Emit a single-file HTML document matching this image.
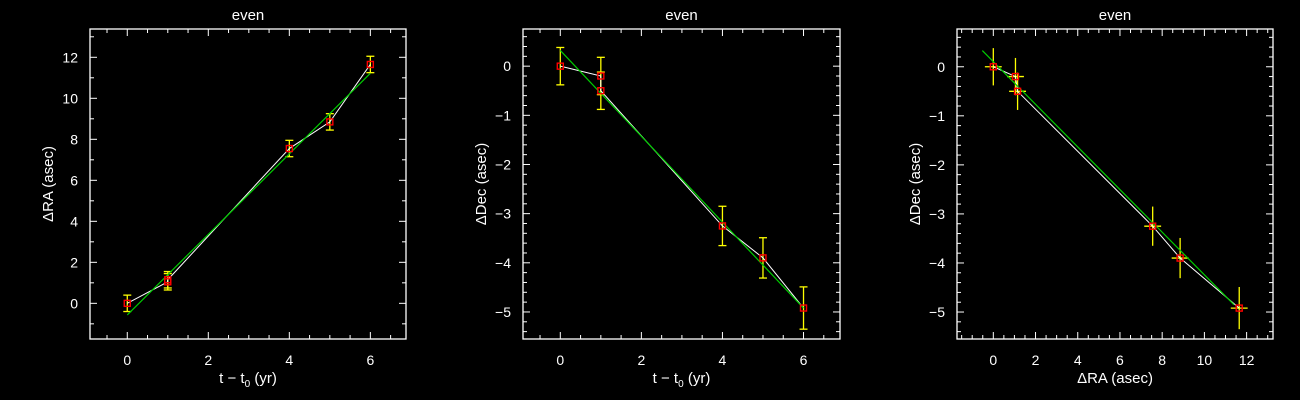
<!DOCTYPE html>
<html><head><meta charset="utf-8"><style>
html,body{margin:0;padding:0;background:#000;width:1300px;height:400px;overflow:hidden}
svg{display:block}
text{font-family:"Liberation Sans",sans-serif;fill:#fff}
</style></head><body>
<svg id="c" width="1300" height="400"></svg>
<script>
const times=[0,1,1,4,5,6];
const dRA=[0,1.05,1.15,7.55,8.85,11.65];
const dDec=[0,-0.2,-0.5,-3.25,-3.9,-4.92];
const raErr=[0.4,0.4,0.4,0.4,0.4,0.4];
const decErr=[0.38,0.38,0.38,0.4,0.41,0.43];
const fitRA=[-0.57,11.22];
const fitDecT=[0.32,-4.92];
const fitDecRA=[[-0.52,0.33],[11.4,-4.85]];
const xTicksT=[0,2,4,6];
const yTicksRA=[0,2,4,6,8,10,12];
const yTicksDec=[0,-1,-2,-3,-4,-5];
const xTicksRA=[0,2,4,6,8,10,12];

const NS="http://www.w3.org/2000/svg";
const svg=document.getElementById('c');
function mk(tag,at,parent){const e=document.createElementNS(NS,tag);for(const k in at)e.setAttribute(k,at[k]);(parent||svg).appendChild(e);return e;}
function fmt(v){return v<0?'\u2212'+Math.abs(v):String(v);}

function panel(o){
 const g=mk('g',{});
 
 
 const X=v=>o.x0+(v-o.xd[0])/(o.xd[1]-o.xd[0])*(o.x1-o.x0);
 const Y=v=>o.y1-(v-o.yd[0])/(o.yd[1]-o.yd[0])*(o.y1-o.y0);
 const box=mk('rect',{x:o.x0,y:o.y0,width:o.x1-o.x0,height:o.y1-o.y0,fill:'none',stroke:'#fff','stroke-width':1.3},g);
 
 
 // x ticks
 for(let v=Math.ceil(o.xd[0]/o.xm)*o.xm;v<=o.xd[1];v+=o.xm){
  const maj=o.xt.some(t=>Math.abs(t-v)<1e-6);const L=maj?7:4;const px=X(v);
  mk('line',{x1:px,x2:px,y1:o.y1,y2:o.y1-L,stroke:'#fff'},g);
  mk('line',{x1:px,x2:px,y1:o.y0,y2:o.y0+L,stroke:'#fff'},g);
 }
 for(let v=Math.ceil(o.yd[0]/o.ym)*o.ym;v<=o.yd[1];v+=o.ym){
  const maj=o.yt.some(t=>Math.abs(t-v)<1e-6);const L=maj?7:4;const py=Y(v);
  mk('line',{x1:o.x0,x2:o.x0+L,y1:py,y2:py,stroke:'#fff'},g);
  mk('line',{x1:o.x1,x2:o.x1-L,y1:py,y2:py,stroke:'#fff'},g);
 }
 o.xt.forEach(v=>{const t=mk('text',{x:X(v),y:o.y1+26,'font-size':14,'text-anchor':'middle'},g);t.textContent=fmt(v);
  
  });
 o.yt.forEach(v=>{const t=mk('text',{x:o.x0-12,y:Y(v)+5,'font-size':14,'text-anchor':'end'},g);t.textContent=fmt(v);
  
  });
 const ti=mk('text',{x:(o.x0+o.x1)/2,y:20,'font-size':15,'text-anchor':'middle'},g);ti.textContent='even';
 
 
 const xl=mk('text',{x:(o.x0+o.x1)/2,y:383,'font-size':15,'text-anchor':'middle'},g);xl.innerHTML=o.xlab;
 
 
 const yx=o.x0-37,yy=(o.y0+o.y1)/2;
 const yl=mk('text',{x:yx,y:yy,'font-size':15,'text-anchor':'middle',transform:`rotate(-90 ${yx} ${yy})`},g);yl.textContent=o.ylab;
 
 
 // error bars
 const xs=o.xs,ys=o.ys;
 xs.forEach((xv,i)=>{
  const px=X(xv),py=Y(ys[i]);
  const e=mk('g',{stroke:'#ff0','stroke-width':1.3},g);
  
  
  if(o.ye){const a=Y(ys[i]+o.ye[i]),b=Y(ys[i]-o.ye[i]);
   mk('line',{x1:px,x2:px,y1:a,y2:b},e);
   if(!o.xe){mk('line',{x1:px-4,x2:px+4,y1:a,y2:a},e);mk('line',{x1:px-4,x2:px+4,y1:b,y2:b},e);}}
  if(o.xe){mk('line',{x1:X(xv-o.xe[i]),x2:X(xv+o.xe[i]),y1:py,y2:py},e);}
 });
 // white connecting line
 const pl=mk('polyline',{points:xs.map((v,i)=>X(v)+','+Y(ys[i])).join(' '),fill:'none',stroke:'#fff','stroke-width':1},g);
 
 
 const f=o.fit;
 const fl=mk('line',{x1:X(f[0][0]),y1:Y(f[0][1]),x2:X(f[1][0]),y2:Y(f[1][1]),stroke:'#0c0','stroke-width':1.2},g);
 
 
 xs.forEach((xv,i)=>{const r=mk('rect',{x:X(xv)-3,y:Y(ys[i])-3,width:6,height:6,fill:'none',stroke:'#f00','stroke-width':1.4},g);
  
  });
}
panel({name:'ra-vs-time-panel',x0:90,x1:406,y0:29,y1:339,xd:[-0.92,6.88],yd:[-1.74,13.38],xm:0.5,ym:1,xt:xTicksT,yt:yTicksRA,
 xs:times,ys:dRA,ye:raErr,fit:[[0,fitRA[0]],[6,fitRA[1]]],xlab:'t \u2212 t<tspan font-size="10" dy="4">0</tspan><tspan dy="-4"> (yr)</tspan>',ylab:'\u0394RA (asec)'});
panel({name:'dec-vs-time-panel',x0:523,x1:840,y0:29,y1:339,xd:[-0.92,6.9],yd:[-5.55,0.756],xm:0.5,ym:0.2,xt:xTicksT,yt:yTicksDec,
 xs:times,ys:dDec,ye:decErr,fit:[[0,fitDecT[0]],[6,fitDecT[1]]],xlab:'t \u2212 t<tspan font-size="10" dy="4">0</tspan><tspan dy="-4"> (yr)</tspan>',ylab:'\u0394Dec (asec)'});
panel({name:'dec-vs-ra-panel',x0:957,x1:1273,y0:29,y1:339,xd:[-1.72,13.25],yd:[-5.55,0.77],xm:0.5,ym:0.2,xt:xTicksRA,yt:yTicksDec,
 xs:dRA,ys:dDec,ye:decErr,xe:raErr,fit:fitDecRA,xlab:'\u0394RA (asec)',ylab:'\u0394Dec (asec)'});
</script>
</body></html>
